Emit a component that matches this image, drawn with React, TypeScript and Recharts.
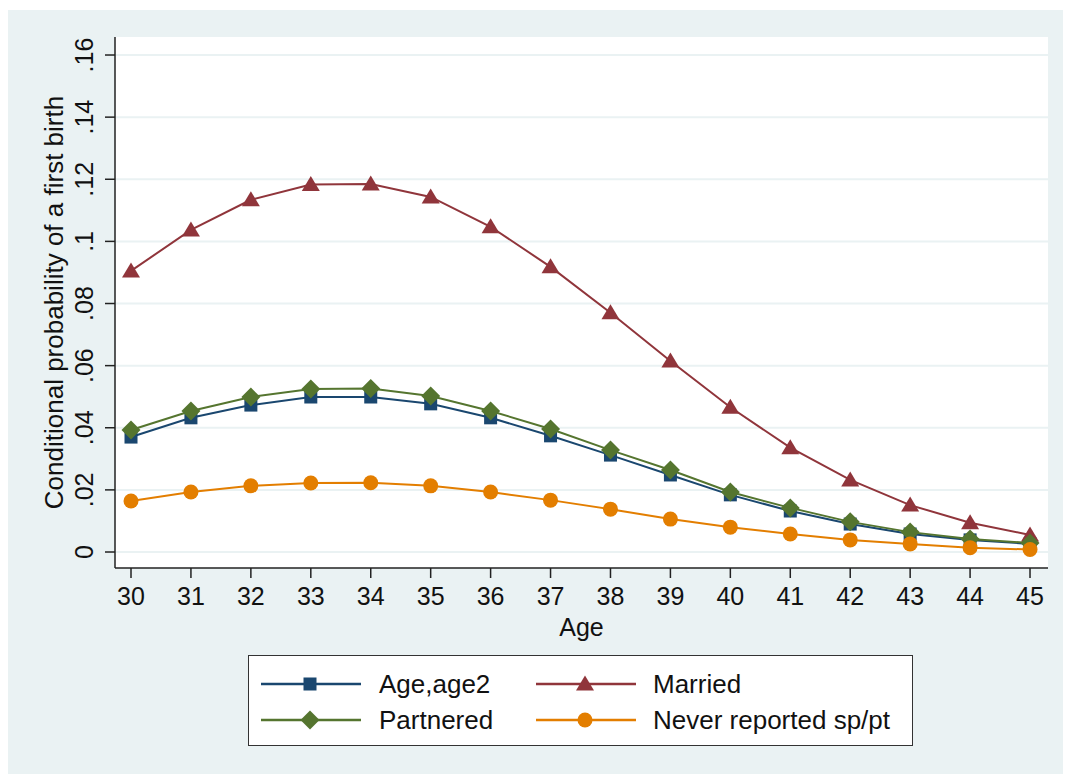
import React from 'react';
import { LineChart, Line, XAxis, YAxis, CartesianGrid } from 'recharts';

const ages = [30, 31, 32, 33, 34, 35, 36, 37, 38, 39, 40, 41, 42, 43, 44, 45];
const ageAge2 = [0.037, 0.0432, 0.0473, 0.0499, 0.0499, 0.0477, 0.0432, 0.0374, 0.0312, 0.0248, 0.0184, 0.0132, 0.009, 0.0058, 0.0039, 0.0026];
const married = [0.0905, 0.1037, 0.1134, 0.1183, 0.1185, 0.1143, 0.1047, 0.0918, 0.077, 0.0615, 0.0466, 0.0336, 0.0232, 0.0151, 0.0094, 0.0055];
const partnered = [0.0393, 0.0454, 0.0499, 0.0525, 0.0526, 0.0502, 0.0454, 0.0396, 0.0328, 0.0264, 0.0193, 0.0142, 0.0097, 0.0064, 0.0042, 0.0029];
const neverReported = [0.0164, 0.0193, 0.0213, 0.0222, 0.0223, 0.0213, 0.0193, 0.0167, 0.0138, 0.0106, 0.008, 0.0058, 0.0039, 0.0026, 0.0014, 0.0008];

const yTicks = [0, 0.02, 0.04, 0.06, 0.08, 0.1, 0.12, 0.14, 0.16];
const yTickLabels = ['0', '.02', '.04', '.06', '.08', '.1', '.12', '.14', '.16'];
const xTicks = ages;

const seriesNames = ['Age,age2', 'Married', 'Partnered', 'Never reported sp/pt'];
const seriesKeys = ['ageAge2', 'married', 'partnered', 'neverReported'];
const seriesColors = ['#1a476f', '#90353b', '#55752f', '#e37e00'];
const seriesShapes = ['square', 'triangle', 'diamond', 'circle'];

const data = ages.map((a, i) => ({
  age: a,
  ageAge2: ageAge2[i],
  married: married[i],
  partnered: partnered[i],
  neverReported: neverReported[i],
}));

const FONT = '"Liberation Sans", Arial, Helvetica, sans-serif';
const BG = '#eaf2f3';
const AXIS = '#222';

function Marker({ shape, cx, cy, color }: { shape: string; cx: number; cy: number; color: string }) {
  if (shape === 'square') {
    return <rect x={cx - 6.5} y={cy - 6.5} width={13} height={13} fill={color} />;
  }
  if (shape === 'triangle') {
    return <polygon points={`${cx},${cy - 8.5} ${cx - 9},${cy + 6.5} ${cx + 9},${cy + 6.5}`} fill={color} />;
  }
  if (shape === 'diamond') {
    return <polygon points={`${cx},${cy - 9.5} ${cx + 9.5},${cy} ${cx},${cy + 9.5} ${cx - 9.5},${cy}`} fill={color} />;
  }
  return <circle cx={cx} cy={cy} r={7.5} fill={color} />;
}

const makeDot = (shape: string, color: string) => (props: any) => {
  const { cx, cy, index } = props;
  if (cx == null || cy == null) return <g key={`d-${index}`} />;
  return (
    <g key={`d-${shape}-${index}`}>
      <Marker shape={shape} cx={cx} cy={cy} color={color} />
    </g>
  );
};

const YTick = (props: any) => {
  const { x, y, payload, index } = props;
  const i = yTicks.indexOf(payload.value);
  const label = i >= 0 ? yTickLabels[i] : String(payload.value);
  return (
    <text
      key={`yt-${index}`}
      x={x}
      y={y}
      transform={`rotate(-90, ${x}, ${y})`}
      textAnchor="middle"
      dominantBaseline="central"
      fontFamily={FONT}
      fontSize={25}
      fill="#111"
    >
      {label}
    </text>
  );
};

const YLabel = (props: any) => {
  const vb = props.viewBox || {};
  const cx = 47;
  const cy = (vb.y ?? 0) + (vb.height ?? 0) / 2;
  return (
    <text
      x={cx}
      y={cy}
      transform={`rotate(-90, ${cx}, ${cy})`}
      textAnchor="middle"
      dominantBaseline="central"
      fontFamily={FONT}
      fontSize={26}
      fill="#111"
    >
      Conditional probability of a first birth
    </text>
  );
};

const XLabel = (props: any) => {
  const vb = props.viewBox || {};
  const cx = (vb.x ?? 0) + (vb.width ?? 0) / 2;
  return (
    <text
      x={cx}
      y={617}
      textAnchor="middle"
      dominantBaseline="central"
      fontFamily={FONT}
      fontSize={25}
      fill="#111"
    >
      Age
    </text>
  );
};

function LegendIcon({ shape, color }: { shape: string; color: string }) {
  return (
    <svg width={100} height={24} style={{ display: 'block' }}>
      <line x1={0} y1={12} x2={100} y2={12} stroke={color} strokeWidth={2.5} />
      <Marker shape={shape} cx={49} cy={12} color={color} />
    </svg>
  );
}

function ChartLegend() {
  const cols = [12, 287];
  const textCols = [130, 404];
  const rows = [28, 64];
  const order = [0, 1, 2, 3];
  return (
    <div
      style={{
        position: 'absolute',
        left: 241,
        top: 645,
        width: 665,
        height: 91,
        background: '#fff',
        border: '1px solid #333',
        boxSizing: 'border-box',
      }}
    >
      {order.map((s, k) => {
        const c = k % 2;
        const r = Math.floor(k / 2);
        return (
          <React.Fragment key={seriesNames[s]}>
            <div style={{ position: 'absolute', left: cols[c], top: rows[r] - 12 }}>
              <LegendIcon shape={seriesShapes[s]} color={seriesColors[s]} />
            </div>
            <div
              style={{
                position: 'absolute',
                left: textCols[c],
                top: rows[r] - 16,
                height: 32,
                lineHeight: '32px',
                fontFamily: FONT,
                fontSize: 26,
                color: '#111',
                whiteSpace: 'nowrap',
              }}
            >
              {seriesNames[s]}
            </div>
          </React.Fragment>
        );
      })}
    </div>
  );
}

export default function App() {
  return (
    <div style={{ position: 'relative', width: 1071, height: 782, margin: -8 }}>
      <div
        style={{
          position: 'absolute',
          left: 7,
          top: 10,
          width: 1064,
          height: 765,
          background: BG,
        }}
      >
        <LineChart
          width={1064}
          height={765}
          data={data}
          margin={{ top: 27, right: 23, left: 0, bottom: 127 }}
        >
          <CartesianGrid
            horizontal={true}
            vertical={false}
            stroke={BG}
            strokeWidth={2}
            fill="#ffffff"
            fillOpacity={1}
            horizontalValues={yTicks}
          />
          <XAxis
            dataKey="age"
            type="number"
            domain={[29.733, 45.3]}
            ticks={xTicks}
            allowDataOverflow
            height={80}
            tickSize={10}
            tickMargin={9}
            stroke={AXIS}
            axisLine={{ stroke: AXIS, strokeWidth: 1.5 }}
            tickLine={{ stroke: AXIS, strokeWidth: 1.5 }}
            tick={{ fontFamily: FONT, fontSize: 25, fill: '#111' }}
            label={<XLabel />}
            interval={0}
          />
          <YAxis
            type="number"
            domain={[-0.00515, 0.1658]}
            ticks={yTicks}
            allowDataOverflow
            width={108}
            tickSize={10}
            tickMargin={21}
            stroke={AXIS}
            axisLine={{ stroke: AXIS, strokeWidth: 1.5 }}
            tickLine={{ stroke: AXIS, strokeWidth: 1.5 }}
            tick={<YTick />}
            label={<YLabel />}
            interval={0}
          />
          {seriesKeys.map((k, i) => (
            <Line
              key={k}
              type="linear"
              dataKey={k}
              stroke={seriesColors[i]}
              strokeWidth={2}
              dot={makeDot(seriesShapes[i], seriesColors[i])}
              activeDot={false}
              isAnimationActive={false}
            />
          ))}
        </LineChart>
        <ChartLegend />
      </div>
    </div>
  );
}
